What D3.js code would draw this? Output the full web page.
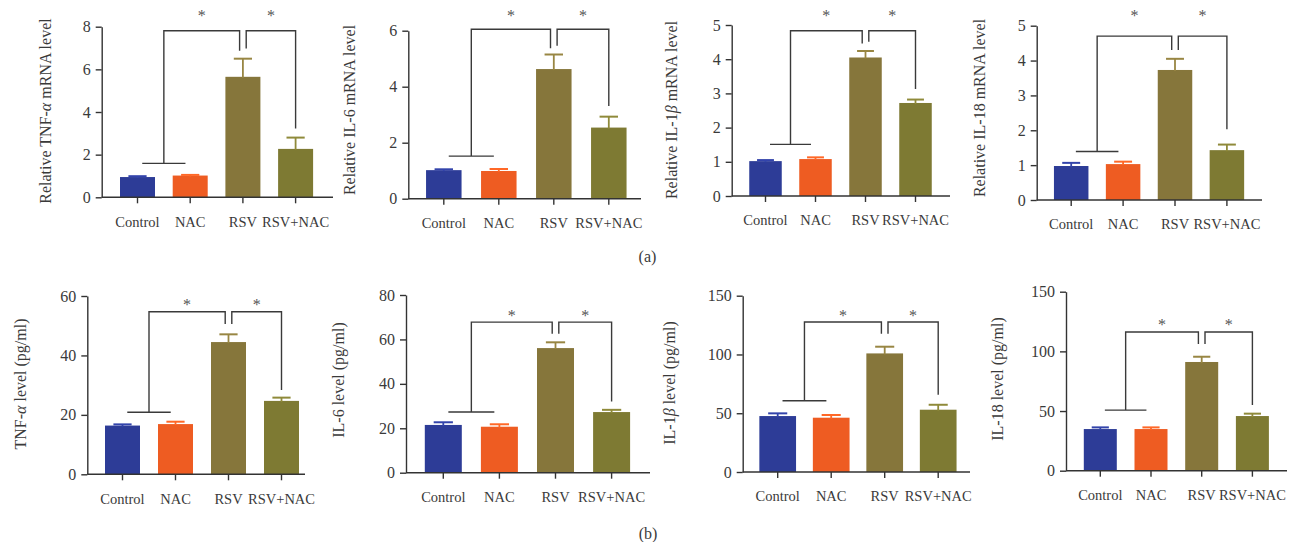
<!DOCTYPE html>
<html><head><meta charset="utf-8">
<script src="https://cdn.jsdelivr.net/npm/d3@7"></script>
<style>
body{margin:0;background:#fff}
svg{display:block}
text{font-family:"Liberation Serif","Times New Roman",serif}
</style>
</head><body>
<svg id="chart" width="1290" height="542"></svg>
<script>
const categories = ["Control", "NAC", "RSV", "RSV+NAC"];

// (a) relative mRNA levels
const tnfMrnaMean = [0.95, 1.02, 5.65, 2.27];
const tnfMrnaSem  = [0.04, 0.03, 0.85, 0.53];
const tnfMrnaTicks = [0, 2, 4, 6, 8];
const tnfMrnaSig  = [7.81, 1.59, 6.87, 6.98, 3.23];

const il6MrnaMean = [1.02, 0.99, 4.63, 2.54];
const il6MrnaSem  = [0.03, 0.07, 0.52, 0.39];
const il6MrnaTicks = [0, 2, 4, 6];
const il6MrnaSig  = [6.05, 1.52, 5.37, 5.46, 3.31];

const il1bMrnaMean = [1.02, 1.08, 4.05, 2.72];
const il1bMrnaSem  = [0.03, 0.05, 0.19, 0.10];
const il1bMrnaTicks = [0, 1, 2, 3, 4, 5];
const il1bMrnaSig  = [4.83, 1.51, 4.46, 4.51, 3.13];

const il18MrnaMean = [0.975, 1.03, 3.73, 1.43];
const il18MrnaSem  = [0.09, 0.07, 0.32, 0.16];
const il18MrnaTicks = [0, 1, 2, 3, 4, 5];
const il18MrnaSig  = [4.70, 1.39, 4.30, 4.30, 2.03];

// (b) protein levels (pg/ml)
const tnfPgMean = [16.4, 16.9, 44.5, 24.7];
const tnfPgSem  = [0.4, 0.8, 2.6, 1.1];
const tnfPgTicks = [0, 20, 40, 60];
const tnfPgSig  = [54.7, 20.9, 50.6, 50.6, 28.4];

const il6PgMean = [21.5, 20.7, 56.1, 27.3];
const il6PgSem  = [1.2, 1.1, 2.6, 1.0];
const il6PgTicks = [0, 20, 40, 60, 80];
const il6PgSig  = [67.8, 27.3, 62.6, 62.6, 32.0];

const il1bPgMean = [47.6, 46.2, 100.9, 53.0];
const il1bPgSem  = [2.3, 2.3, 5.7, 4.2];
const il1bPgTicks = [0, 50, 100, 150];
const il1bPgSig  = [127.6, 60.6, 117.6, 117.6, 65.7];

const il18PgMean = [34.9, 34.9, 91.1, 45.8];
const il18PgSem  = [1.4, 1.4, 4.4, 2.0];
const il18PgTicks = [0, 50, 100, 150];
const il18PgSig  = [116.2, 50.8, 106.1, 106.1, 55.0];

// titles: [before, greek (italic), after]
const titles = [
  ["Relative TNF-", "α", " mRNA level"],
  ["Relative IL-6 mRNA level", "", ""],
  ["Relative IL-1", "β", " mRNA level"],
  ["Relative IL-18 mRNA level", "", ""],
  ["TNF-", "α", " level (pg/ml)"],
  ["IL-6 level (pg/ml)", "", ""],
  ["IL-1", "β", " level (pg/ml)"],
  ["IL-18 level (pg/ml)", "", ""]
];
const panelLabels = ["(a)", "(b)"];

// styles / layout (not data)
const barColors = ["#2D3C97", "#EE5C22", "#86763B", "#7E7A33"];
const textColor = "#3a3a3a";
const layout = [
  {ax:101.7, y0:197.3, yTop:26.7,  c1:137.5,  step:52.7, w:35,   xEnd:333,  tx:45,   ty:111, starY:15},
  {ax:408.3, y0:198.7, yTop:30.7,  c1:443.8,  step:55,   w:35.5, xEnd:641,  tx:349,  ty:110, starY:15},
  {ax:731.7, y0:196,   yTop:25,    c1:765.5,  step:50,   w:32.5, xEnd:950,  tx:670.7,ty:110, starY:15},
  {ax:1036.7,y0:200,   yTop:25.7,  c1:1071.2, step:51.9, w:34.5, xEnd:1262, tx:979,  ty:108, starY:15},
  {ax:87.3,  y0:474.3, yTop:296,   c1:122.5,  step:53,   w:35,   xEnd:305,  tx:20,   ty:384, starY:304},
  {ax:406,   y0:472.7, yTop:295,   c1:443.3,  step:56.1, w:37,   xEnd:650,  tx:338,  ty:380, starY:315},
  {ax:742.7, y0:472,   yTop:295.7, c1:777.7,  step:53.5, w:36.7, xEnd:970,  tx:669,  ty:383, starY:315},
  {ax:1066,  y0:470.7, yTop:291.7, c1:1100.3, step:50.7, w:33,   xEnd:1287, tx:997,  ty:379, starY:324}
];

const panels = [
  [tnfMrnaMean, tnfMrnaSem, tnfMrnaTicks, tnfMrnaSig],
  [il6MrnaMean, il6MrnaSem, il6MrnaTicks, il6MrnaSig],
  [il1bMrnaMean, il1bMrnaSem, il1bMrnaTicks, il1bMrnaSig],
  [il18MrnaMean, il18MrnaSem, il18MrnaTicks, il18MrnaSig],
  [tnfPgMean, tnfPgSem, tnfPgTicks, tnfPgSig],
  [il6PgMean, il6PgSem, il6PgTicks, il6PgSig],
  [il1bPgMean, il1bPgSem, il1bPgTicks, il1bPgSig],
  [il18PgMean, il18PgSem, il18PgTicks, il18PgSig]
];

const svg = d3.select("#chart");
const axisColor = "#333";

panels.forEach(([mean, sem, ticks, sig], i) => {
  const L = layout[i];
  const g = svg.append("g");
  const y = d3.scaleLinear().domain([0, ticks[ticks.length - 1]]).range([L.y0, L.yTop]);
  const pi = 1 - L.w / L.step;
  const x = d3.scaleBand().domain(categories)
    .range([L.c1 - L.step / 2, L.c1 + 3.5 * L.step])
    .paddingInner(pi).paddingOuter(pi / 2);
  const cx = c => x(c) + x.bandwidth() / 2;

  // bars
  g.selectAll("rect.bar").data(categories).join("rect")
    .attr("class", "bar")
    .attr("x", c => x(c))
    .attr("y", (c, k) => y(mean[k]))
    .attr("width", x.bandwidth())
    .attr("height", (c, k) => L.y0 - y(mean[k]))
    .attr("fill", (c, k) => barColors[k]);

  // error bars
  const capW = x.bandwidth() * 0.52;
  const eg = g.selectAll("g.err").data(categories).join("g").attr("class", "err");
  eg.append("line")
    .attr("x1", c => cx(c)).attr("x2", c => cx(c))
    .attr("y1", (c, k) => y(mean[k]) + 1).attr("y2", (c, k) => y(mean[k] + sem[k]))
    .attr("stroke", (c, k) => d3.color(barColors[k]).brighter(0.35)).attr("stroke-width", 1.8);
  eg.append("line")
    .attr("x1", c => cx(c) - capW / 2).attr("x2", c => cx(c) + capW / 2)
    .attr("y1", (c, k) => y(mean[k] + sem[k])).attr("y2", (c, k) => y(mean[k] + sem[k]))
    .attr("stroke", (c, k) => d3.color(barColors[k]).brighter(0.35)).attr("stroke-width", 2);

  // y axis
  const ya = g.append("g").attr("transform", `translate(${L.ax},0)`)
    .call(d3.axisLeft(y).tickValues(ticks).tickFormat(d3.format("d"))
      .tickSize(6).tickPadding(5).tickSizeOuter(0));
  ya.select(".domain").attr("stroke", axisColor).attr("stroke-width", 1.4);
  ya.selectAll(".tick line").attr("stroke", axisColor).attr("stroke-width", 1.4);
  ya.selectAll(".tick text").style("font-size", "16px").style("font-family", "Liberation Serif")
    .style("fill", textColor);

  // x axis
  const xa = g.append("g").attr("transform", `translate(0,${L.y0})`)
    .call(d3.axisBottom(x).tickSize(6).tickPadding(13));
  xa.select(".domain").remove();
  xa.selectAll(".tick line").attr("stroke", axisColor).attr("stroke-width", 1.4);
  xa.selectAll(".tick text").style("font-size", "14.5px").style("font-family", "Liberation Serif")
    .style("fill", textColor);
  g.append("line").attr("x1", L.ax).attr("x2", L.xEnd).attr("y1", L.y0).attr("y2", L.y0)
    .attr("stroke", axisColor).attr("stroke-width", 1.4);

  // y title
  const t = titles[i];
  const tt = g.append("text")
    .attr("transform", `translate(${L.tx},${L.ty}) rotate(-90)`)
    .attr("text-anchor", "middle").attr("dominant-baseline", "central")
    .style("font-size", "16px").style("fill", textColor);
  tt.append("tspan").text(t[0]);
  if (t[1]) {
    tt.append("tspan").style("font-style", "italic").text(t[1]);
    tt.append("tspan").text(t[2]);
  }

  // significance brackets
  const [top, grp, leg1, leg2, legN] = sig;
  const mid01 = (cx(categories[0]) + cx(categories[1])) / 2;
  const hw = 0.41 * L.step;
  const cR = cx(categories[2]), cN = cx(categories[3]);
  const lx = cR - 3.3, rx = cR + 3.3;
  const path = d3.path();
  path.moveTo(mid01 - hw, y(grp)); path.lineTo(mid01 + hw, y(grp));
  path.moveTo(mid01, y(grp)); path.lineTo(mid01, y(top)); path.lineTo(lx, y(top)); path.lineTo(lx, y(leg1));
  path.moveTo(rx, y(leg2)); path.lineTo(rx, y(top)); path.lineTo(cN, y(top)); path.lineTo(cN, y(legN));
  g.append("path").attr("d", path.toString()).attr("fill", "none")
    .attr("stroke", "#3a3a3a").attr("stroke-width", 1.4);
  [(mid01 + lx) / 2, (rx + cN) / 2].forEach(sx => {
    g.append("text").attr("x", sx).attr("y", L.starY + 6)
      .attr("text-anchor", "middle").style("font-size", "16px").style("fill", "#555").text("*");
  });
});

svg.append("text").attr("x", 647.5).attr("y", 262).attr("text-anchor", "middle")
  .style("font-size", "16px").style("fill", textColor).text(panelLabels[0]);
svg.append("text").attr("x", 648).attr("y", 539).attr("text-anchor", "middle")
  .style("font-size", "16px").style("fill", textColor).text(panelLabels[1]);
</script>
</body></html>
